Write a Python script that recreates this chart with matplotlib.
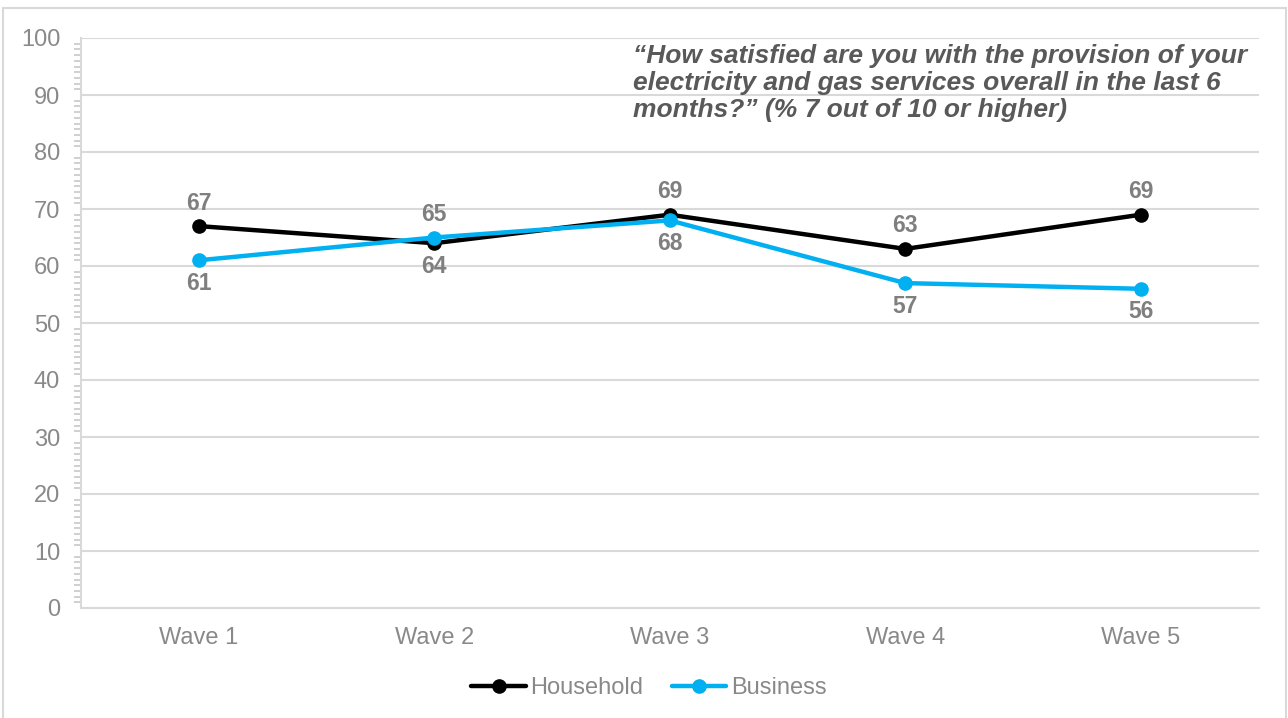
import matplotlib
matplotlib.use("Agg")
import matplotlib.pyplot as plt
from matplotlib.patches import Rectangle
from matplotlib.ticker import MultipleLocator
from matplotlib.lines import Line2D

categories = ["Wave 1", "Wave 2", "Wave 3", "Wave 4", "Wave 5"]
household = [67, 64, 69, 63, 69]
business = [61, 65, 68, 57, 56]
household_label_pos = ["above", "below", "above", "above", "above"]
business_label_pos = ["below", "above", "below", "below", "below"]
title_text = ("\u201cHow satisfied are you with the provision of your\n"
              "electricity and gas services overall in the last 6\n"
              "months?\u201d (% 7 out of 10 or higher)")

plt.rcParams['font.family'] = ['Liberation Sans', 'DejaVu Sans']

W, H = 1288, 718
fig = plt.figure(figsize=(W / 100, H / 100), dpi=100)
ax = fig.add_axes([81 / W, 1 - 608 / H, (1258.5 - 81) / W, (608 - 38) / H])

grid_c = '#d9d9d9'
tick_c = '#898989'
lab_c = '#7f7f7f'
hh_c = '#000000'
bu_c = '#00b0f0'

x = list(range(len(categories)))
ax.plot(x, household, color=hh_c, lw=3.2, marker='o', ms=9.5, zorder=3, solid_capstyle='round')
ax.plot(x, business, color=bu_c, lw=3.2, marker='o', ms=9.5, zorder=4, solid_capstyle='round')

for xi, v, p in zip(x, household, household_label_pos):
    off = 23 if p == "above" else -23
    ax.annotate(str(v), (xi, v), xytext=(0, off), textcoords='offset pixels',
                ha='center', va='center', fontsize=16.5, fontweight='bold', color=lab_c, zorder=5)
for xi, v, p in zip(x, business, business_label_pos):
    off = 23 if p == "above" else -23
    ax.annotate(str(v), (xi, v), xytext=(0, off), textcoords='offset pixels',
                ha='center', va='center', fontsize=16.5, fontweight='bold', color=lab_c, zorder=5)

ax.set_xlim(-0.5, len(categories) - 0.5)
ax.set_ylim(0, 100)
ax.set_xticks(x)
ax.set_xticklabels(categories)
ax.yaxis.set_major_locator(MultipleLocator(10))
ax.yaxis.set_minor_locator(MultipleLocator(1))
ax.grid(axis='y', which='major', color=grid_c, lw=1.5, zorder=0)
ax.set_axisbelow(True)
for s in ['top', 'right']:
    ax.spines[s].set_visible(False)
ax.spines['left'].set_color(grid_c)
ax.spines['left'].set_linewidth(1.5)
ax.spines['bottom'].set_color(grid_c)
ax.spines['bottom'].set_linewidth(1.5)
ax.tick_params(axis='y', which='major', length=0, pad=15, labelsize=17, labelcolor=tick_c)
ax.tick_params(axis='y', which='minor', length=5, width=1.2, color='#c8c8c8')
ax.tick_params(axis='x', length=0, pad=14, labelsize=17, labelcolor=tick_c)

fig.text(633 / W, 1 - 44 / H, title_text, ha='left', va='top', fontsize=19,
         fontweight='bold', style='italic', color='#595959', linespacing=1.16)

handles = [Line2D([], [], color=hh_c, lw=3.2, marker='o', ms=9.5, solid_capstyle='round'),
           Line2D([], [], color=bu_c, lw=3.2, marker='o', ms=9.5, solid_capstyle='round')]
leg = fig.legend(handles, ["Household", "Business"], loc='center', bbox_to_anchor=(649 / W, 1 - 688 / H),
                 ncol=2, frameon=False, fontsize=17, handlelength=2.3, handletextpad=0.2,
                 columnspacing=1.2)
for t in leg.get_texts():
    t.set_color(tick_c)

fig.patches.append(Rectangle((3 / W, -0.01), (1286 - 3) / W, (1 - 8 / H) + 0.01,
                             transform=fig.transFigure, fill=False, edgecolor=grid_c, lw=1.5))

fig.savefig("out.png", dpi=100)
